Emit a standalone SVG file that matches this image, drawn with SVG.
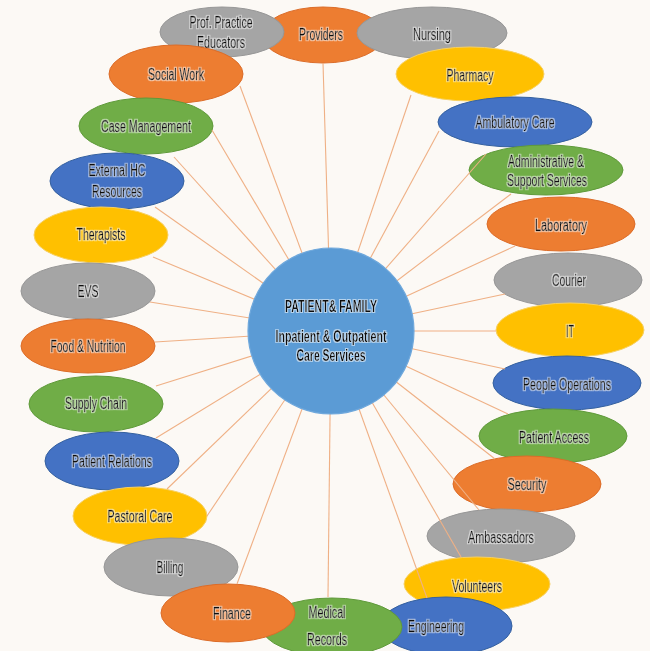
<svg xmlns="http://www.w3.org/2000/svg" width="650" height="651" viewBox="0 0 650 651">
  <defs>
    <!-- soft light glow behind the label text -->
    <filter id="halo" x="-10%" y="-40%" width="120%" height="180%">
      <feMorphology in="SourceAlpha" operator="dilate" radius="1.1" result="grown"/>
      <feGaussianBlur in="grown" stdDeviation="0.7" result="soft"/>
      <feFlood flood-color="#FFFFFF" flood-opacity="0.55"/>
      <feComposite in2="soft" operator="in" result="glow"/>
      <feMerge><feMergeNode in="glow"/><feMergeNode in="SourceGraphic"/></feMerge>
    </filter>
  </defs>
  <style>
    .bg { fill: #FCF9F5; }
    .orange { fill: #ED7D31; stroke: #DC6C28; stroke-width: 1; }
    .gray { fill: #A5A5A5; stroke: #979797; stroke-width: 1; }
    .yellow { fill: #FFC000; stroke: #F7D060; stroke-width: 1; }
    .blue { fill: #4472C4; stroke: #34609F; stroke-width: 1; }
    .green { fill: #70AD47; stroke: #5F9A3A; stroke-width: 1; }
    .hub { fill: #5B9BD5; stroke: #6FA8DC; stroke-width: 1.2; }
    .lbl { font-family: "Liberation Sans Narrow", "Liberation Sans", Arial, sans-serif; font-size: 16px; fill: #111111; stroke: #111111; stroke-width: 0.35; text-anchor: middle; filter: url(#halo); }
    .hubtxt { font-family: "Liberation Sans Narrow", "Liberation Sans", Arial, sans-serif; font-weight: bold; fill: #101010; text-anchor: middle; filter: url(#halo); }
    .conn line { stroke: #EFB085; stroke-width: 1.1; }
  </style>

  <rect class="bg" x="0" y="0" width="650" height="651"/>

  <!-- service nodes -->
  <g id="providers"><ellipse class="orange" cx="323" cy="35" rx="61" ry="28"/><text class="lbl" x="321" y="40" textLength="44" lengthAdjust="spacingAndGlyphs">Providers</text></g>
  <g id="prof-practice-educators"><ellipse class="gray" cx="222" cy="32" rx="62" ry="25"/><text class="lbl" x="221" y="28" textLength="63" lengthAdjust="spacingAndGlyphs">Prof. Practice</text><text class="lbl" x="221" y="48" textLength="48" lengthAdjust="spacingAndGlyphs">Educators</text></g>
  <g id="nursing"><ellipse class="gray" cx="432" cy="33" rx="75" ry="26"/><text class="lbl" x="432" y="40" textLength="38" lengthAdjust="spacingAndGlyphs">Nursing</text></g>
  <g id="social-work"><ellipse class="orange" cx="176" cy="74" rx="67" ry="29"/><text class="lbl" x="176" y="80" textLength="56" lengthAdjust="spacingAndGlyphs">Social Work</text></g>
  <g id="pharmacy"><ellipse class="yellow" cx="470" cy="74" rx="74" ry="27"/><text class="lbl" x="470" y="81" textLength="47" lengthAdjust="spacingAndGlyphs">Pharmacy</text></g>
  <g id="case-management"><ellipse class="green" cx="146" cy="126" rx="67" ry="28"/><text class="lbl" x="146" y="132" textLength="90" lengthAdjust="spacingAndGlyphs">Case Management</text></g>
  <g id="ambulatory-care"><ellipse class="blue" cx="515" cy="122" rx="77" ry="25"/><text class="lbl" x="515" y="128" textLength="79" lengthAdjust="spacingAndGlyphs">Ambulatory Care</text></g>
  <g id="external-hc-resources"><ellipse class="blue" cx="117" cy="181" rx="67" ry="28"/><text class="lbl" x="117" y="176" textLength="57" lengthAdjust="spacingAndGlyphs">External HC</text><text class="lbl" x="117" y="197" textLength="50" lengthAdjust="spacingAndGlyphs">Resources</text></g>
  <g id="administrative-support"><ellipse class="green" cx="546" cy="170" rx="77" ry="25"/><text class="lbl" x="546" y="167" textLength="76" lengthAdjust="spacingAndGlyphs">Administrative &amp;</text><text class="lbl" x="547" y="186" textLength="80" lengthAdjust="spacingAndGlyphs">Support Services</text></g>
  <g id="therapists"><ellipse class="yellow" cx="101" cy="235" rx="67" ry="28"/><text class="lbl" x="101" y="240" textLength="49" lengthAdjust="spacingAndGlyphs">Therapists</text></g>
  <g id="laboratory"><ellipse class="orange" cx="561" cy="224" rx="74" ry="27"/><text class="lbl" x="561" y="231" textLength="52" lengthAdjust="spacingAndGlyphs">Laboratory</text></g>
  <g id="evs"><ellipse class="gray" cx="88" cy="291" rx="67" ry="28"/><text class="lbl" x="88" y="297" textLength="21" lengthAdjust="spacingAndGlyphs">EVS</text></g>
  <g id="courier"><ellipse class="gray" cx="568" cy="280" rx="74" ry="27"/><text class="lbl" x="569" y="286" textLength="34" lengthAdjust="spacingAndGlyphs">Courier</text></g>
  <g id="food-nutrition"><ellipse class="orange" cx="88" cy="346" rx="67" ry="27"/><text class="lbl" x="88" y="352" textLength="75" lengthAdjust="spacingAndGlyphs">Food &amp; Nutrition</text></g>
  <g id="it"><ellipse class="yellow" cx="570" cy="330" rx="74" ry="27"/><text class="lbl" x="570" y="337" textLength="8" lengthAdjust="spacingAndGlyphs">IT</text></g>
  <g id="supply-chain"><ellipse class="green" cx="96" cy="404" rx="67" ry="28"/><text class="lbl" x="96" y="409" textLength="62" lengthAdjust="spacingAndGlyphs">Supply Chain</text></g>
  <g id="people-operations"><ellipse class="blue" cx="567" cy="383" rx="74" ry="27"/><text class="lbl" x="567" y="390" textLength="88" lengthAdjust="spacingAndGlyphs">People Operations</text></g>
  <g id="patient-relations"><ellipse class="blue" cx="112" cy="461" rx="67" ry="29"/><text class="lbl" x="112" y="467" textLength="80" lengthAdjust="spacingAndGlyphs">Patient Relations</text></g>
  <g id="patient-access"><ellipse class="green" cx="553" cy="436" rx="74" ry="27"/><text class="lbl" x="554" y="443" textLength="70" lengthAdjust="spacingAndGlyphs">Patient Access</text></g>
  <g id="pastoral-care"><ellipse class="yellow" cx="140" cy="516" rx="67" ry="29"/><text class="lbl" x="140" y="522" textLength="65" lengthAdjust="spacingAndGlyphs">Pastoral Care</text></g>
  <g id="security"><ellipse class="orange" cx="527" cy="484" rx="74" ry="28"/><text class="lbl" x="527" y="490" textLength="39" lengthAdjust="spacingAndGlyphs">Security</text></g>
  <g id="billing"><ellipse class="gray" cx="171" cy="567" rx="67" ry="29"/><text class="lbl" x="170" y="573" textLength="27" lengthAdjust="spacingAndGlyphs">Billing</text></g>
  <g id="ambassadors"><ellipse class="gray" cx="501" cy="536" rx="74" ry="27"/><text class="lbl" x="501" y="543" textLength="66" lengthAdjust="spacingAndGlyphs">Ambassadors</text></g>
  <g id="volunteers"><ellipse class="yellow" cx="477" cy="584" rx="73" ry="27"/><text class="lbl" x="477" y="592" textLength="50" lengthAdjust="spacingAndGlyphs">Volunteers</text></g>
  <g id="engineering"><ellipse class="blue" cx="446" cy="626" rx="66" ry="29"/><text class="lbl" x="436" y="632" textLength="56" lengthAdjust="spacingAndGlyphs">Engineering</text></g>
  <g id="medical-records"><ellipse class="green" cx="332" cy="627" rx="70" ry="29"/><text class="lbl" x="327" y="618" textLength="37" lengthAdjust="spacingAndGlyphs">Medical</text><text class="lbl" x="327" y="645" textLength="40" lengthAdjust="spacingAndGlyphs">Records</text></g>
  <g id="finance"><ellipse class="orange" cx="228" cy="613" rx="67" ry="29"/><text class="lbl" x="232" y="619" textLength="38" lengthAdjust="spacingAndGlyphs">Finance</text></g>

  <!-- spokes from the hub out to each service -->
  <g id="connectors" class="conn">
    <line x1="331" y1="331" x2="323" y2="63"/>
    <line x1="331" y1="331" x2="240" y2="86"/>
    <line x1="331" y1="331" x2="411" y2="95"/>
    <line x1="331" y1="331" x2="212" y2="130"/>
    <line x1="331" y1="331" x2="439" y2="131"/>
    <line x1="331" y1="331" x2="174" y2="157"/>
    <line x1="331" y1="331" x2="486" y2="154"/>
    <line x1="331" y1="331" x2="155" y2="207"/>
    <line x1="331" y1="331" x2="511" y2="194"/>
    <line x1="331" y1="331" x2="153" y2="257"/>
    <line x1="331" y1="331" x2="515" y2="246"/>
    <line x1="331" y1="331" x2="150" y2="302"/>
    <line x1="331" y1="331" x2="505" y2="294"/>
    <line x1="331" y1="331" x2="155" y2="342"/>
    <line x1="331" y1="331" x2="496" y2="331"/>
    <line x1="331" y1="331" x2="156" y2="386"/>
    <line x1="331" y1="331" x2="505" y2="369"/>
    <line x1="331" y1="331" x2="156" y2="438"/>
    <line x1="331" y1="331" x2="508" y2="414"/>
    <line x1="331" y1="331" x2="167" y2="489"/>
    <line x1="331" y1="331" x2="495" y2="459"/>
    <line x1="331" y1="331" x2="207" y2="516"/>
    <line x1="331" y1="331" x2="479" y2="510"/>
    <line x1="331" y1="331" x2="461" y2="557"/>
    <line x1="331" y1="331" x2="427" y2="598"/>
    <line x1="331" y1="331" x2="328" y2="597"/>
    <line x1="331" y1="331" x2="237" y2="584"/>
  </g>

  <!-- central hub -->
  <g id="patient-family">
    <circle class="hub" cx="331" cy="331" r="83"/>
    <text class="hubtxt" x="331" y="312" font-size="16" textLength="92" lengthAdjust="spacingAndGlyphs">PATIENT&amp; FAMILY</text>
    <text class="hubtxt" x="331" y="342" font-size="17" textLength="111" lengthAdjust="spacingAndGlyphs">Inpatient &amp; Outpatient</text>
    <text class="hubtxt" x="331" y="361" font-size="17" textLength="69" lengthAdjust="spacingAndGlyphs">Care Services</text>
  </g>
</svg>
